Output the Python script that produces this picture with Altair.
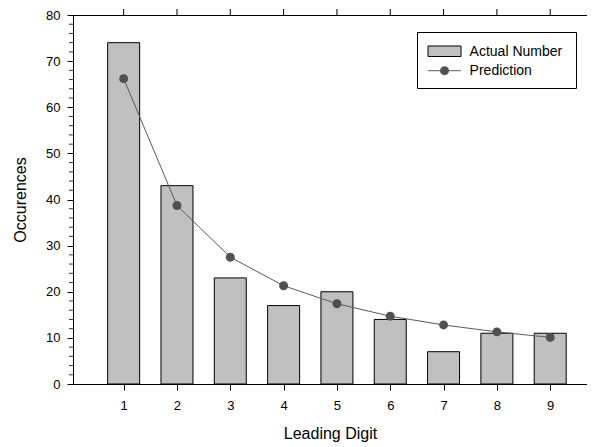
import altair as alt
import pandas as pd

digits = [1, 2, 3, 4, 5, 6, 7, 8, 9]
actual = [74, 43, 23, 17, 20, 14, 7, 11, 11]
prediction = [66.2, 38.7, 27.5, 21.3, 17.4, 14.7, 12.8, 11.3, 10.1]
y_major = [0, 10, 20, 30, 40, 50, 60, 70, 80]
y_minor = [2, 4, 6, 8, 12, 14, 16, 18, 22, 24, 26, 28, 32, 34, 36, 38,
           42, 44, 46, 48, 52, 54, 56, 58, 62, 64, 66, 68, 72, 74, 76, 78]
legend_labels = ["Actual Number", "Prediction"]

FONT = "Liberation Sans"
W, H = 514, 369

df = pd.DataFrame({"digit": digits, "actual": actual, "prediction": prediction})
minor_df = pd.DataFrame({"v": y_minor})
top_df = pd.DataFrame({"digit": digits})
one = pd.DataFrame({"k": [0]})

x_scale = alt.Scale(domain=[0.05, 9.69], nice=False, zero=False, padding=0)
y_scale = alt.Scale(domain=[0, 80], nice=False, zero=True, padding=0)
x_axis = alt.Axis(values=digits, title="Leading Digit", format="d")
y_axis = alt.Axis(values=y_major, title="Occurences", format="d")


def X(field):
    return alt.X(field, scale=x_scale, axis=x_axis)


def Y(field):
    return alt.Y(field, scale=y_scale, axis=y_axis)


bars = alt.Chart(df).mark_bar(size=32, fill="#c0c0c0", stroke="black", strokeWidth=1).encode(
    x=X("digit:Q"), y=Y("actual:Q"),
)

line = alt.Chart(df).mark_line(color="#5a5a5a", strokeWidth=1).encode(
    x=X("digit:Q"), y=Y("prediction:Q"),
)

points = alt.Chart(df).mark_circle(size=80, color="#505050", opacity=1).encode(
    x=X("digit:Q"), y=Y("prediction:Q"),
)

minor = alt.Chart(minor_df).mark_rule(color="#333333", strokeWidth=1).encode(
    y=Y("v:Q"),
    x=alt.value(-4),
    x2=alt.value(0),
)

top_ticks = alt.Chart(top_df).mark_rule(color="black", strokeWidth=1).encode(
    x=X("digit:Q"),
    y=alt.value(-6),
    y2=alt.value(0),
)

top_line = alt.Chart(one).mark_rule(color="black", strokeWidth=1).encode(
    x=alt.value(0), x2=alt.value(W), y=alt.value(0.5)
)

# legend
leg_box = alt.Chart(one).mark_rect(fill="white", stroke="black", strokeWidth=1).encode(
    x=alt.value(344.5), x2=alt.value(503.5), y=alt.value(17.5), y2=alt.value(73.5)
)
leg_rect = alt.Chart(one).mark_rect(fill="#c0c0c0", stroke="black", strokeWidth=1).encode(
    x=alt.value(355), x2=alt.value(388), y=alt.value(31), y2=alt.value(41.5)
)
leg_line = alt.Chart(one).mark_rule(color="#5a5a5a", strokeWidth=1).encode(
    x=alt.value(355), x2=alt.value(388), y=alt.value(55.7)
)
leg_pt = alt.Chart(one).mark_circle(size=80, color="#505050", opacity=1).encode(
    x=alt.value(371.5), y=alt.value(55.7)
)
leg_t1 = alt.Chart(one).mark_text(align="left", baseline="middle", font=FONT,
                                   fontSize=14, color="black",
                                   text=legend_labels[0]).encode(
    x=alt.value(396.6), y=alt.value(36.5)
)
leg_t2 = alt.Chart(one).mark_text(align="left", baseline="middle", font=FONT,
                                   fontSize=14, color="black",
                                   text=legend_labels[1]).encode(
    x=alt.value(396.6), y=alt.value(55.5)
)

chart = alt.layer(
    bars, line, points, minor, top_ticks, top_line,
    leg_box, leg_rect, leg_line, leg_pt, leg_t1, leg_t2
).properties(
    width=W, height=H,
    autosize=alt.AutoSizeParams(type="none"),
    padding={"left": 65, "top": 7, "right": 0, "bottom": 60},
).configure_view(strokeWidth=0).configure_axis(
    labelFont=FONT, labelFontSize=13, labelColor="black",
    titleFont=FONT, titleFontSize=16, titleFontWeight="normal", titleColor="black",
    domainColor="black", tickColor="black", tickSize=6, grid=False,
).configure_axisX(labelPadding=9, titlePadding=13).configure_axisY(
    labelPadding=7, titlePadding=17
)

chart.save("out.html", embed_options={"renderer": "svg", "actions": False})
